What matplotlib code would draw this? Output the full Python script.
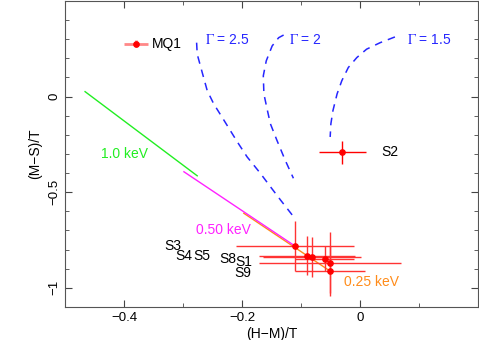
import matplotlib
matplotlib.use("Agg")
import matplotlib.pyplot as plt
from matplotlib.ticker import MultipleLocator, FuncFormatter

plt.rcParams["font.family"] = ["Liberation Sans", "DejaVu Sans"]
plt.rcParams["mathtext.fontset"] = "stix"

# sources: hardness ratios with errors
src_names = ["S1", "S8", "S3", "S4", "S5", "S9"]
hm = [-0.110, -0.090, -0.081, -0.060, -0.051, -0.051]
ms = [-0.782, -0.831, -0.839, -0.848, -0.869, -0.912]
hm_err = [0.100, 0.081, 0.083, 0.050, 0.120, 0.060]
ms_err = [0.130, 0.104, 0.104, 0.065, 0.160, 0.130]

s2_hm, s2_ms, s2_hm_err, s2_ms_err = -0.030, -0.292, 0.040, 0.060
mq1_hm, mq1_ms, mq1_hm_err, mq1_ms_err = -0.380, 0.277, 0.020, 0.020

# power-law tracks
g25_x = [-0.277, -0.276, -0.2675, -0.259, -0.248, -0.234, -0.208, -0.1915,
         -0.169, -0.152, -0.135, -0.113]
g25_y = [0.282, 0.222, 0.126, 0.031, -0.038, -0.107, -0.237, -0.315,
         -0.401, -0.471, -0.540, -0.627]
g20_x = [-0.1296, -0.138, -0.149, -0.159, -0.164, -0.163, -0.157, -0.152,
         -0.141, -0.127, -0.113]
g20_y = [0.322, 0.308, 0.265, 0.187, 0.109, 0.014, -0.073, -0.142,
         -0.228, -0.332, -0.427]
g15_x = [0.059, 0.034, 0.011, -0.0056, -0.020, -0.031, -0.039, -0.046,
         -0.0495, -0.0507]
g15_y = [0.312, 0.282, 0.248, 0.204, 0.152, 0.083, 0.014, -0.073,
         -0.142, -0.211]

# thermal tracks
kt10_x, kt10_y = [-0.466, -0.276], [0.026, -0.414]
kt05_x, kt05_y = [-0.2985, -0.110], [-0.393, -0.782]
kt025_x, kt025_y = [-0.197, -0.051], [-0.610, -0.912]

x_ticks = [-0.4, -0.2, 0.0]
y_ticks = [-1.0, -0.5, 0.0]

fig = plt.figure(figsize=(4.79, 3.40), dpi=100)
ax = fig.add_axes([0.1357, 0.0971, 0.8625, 0.9])

blue = "#2626ff"
dash = (5, 4)
for gx, gy in [(g25_x, g25_y), (g20_x, g20_y), (g15_x, g15_y)]:
    ax.plot(gx, gy, color=blue, lw=1.1, dashes=dash)

ax.plot(kt10_x, kt10_y, color="#22ee22", lw=1.0)
ax.plot(kt025_x, kt025_y, color="#ff8c1a", lw=1.0)
ax.plot(kt05_x, kt05_y, color="#ff22ff", lw=1.0)

ax.errorbar(hm, ms, xerr=hm_err, yerr=ms_err, fmt="o", color="red",
            ecolor="#ff3333", elinewidth=1.0, ms=3.8, capsize=0, zorder=4)
ax.errorbar([s2_hm], [s2_ms], xerr=[s2_hm_err], yerr=[s2_ms_err], fmt="o",
            color="red", ecolor="red", elinewidth=1.0, ms=3.8, capsize=0)
ax.errorbar([mq1_hm], [mq1_ms], xerr=[mq1_hm_err], yerr=[mq1_ms_err], fmt="o",
            color="red", ecolor="#ff8888", elinewidth=2.0, ms=3.8, capsize=0)

fs = 10
ax.text(-0.352, 0.277, "MQ1", fontsize=fs, va="center")
ax.text(0.0367, -0.292, "S2", fontsize=fs, va="center")
ax.text(-0.332, -0.779, "S3", fontsize=fs, va="center")
ax.text(-0.313, -0.831, "S4", fontsize=fs, va="center")
ax.text(-0.283, -0.834, "S5", fontsize=fs, va="center")
ax.text(-0.238, -0.848, "S8", fontsize=fs, va="center")
ax.text(-0.211, -0.866, "S1", fontsize=fs, va="center")
ax.text(-0.2124, -0.921, "S9", fontsize=fs, va="center")

ax.text(-0.439, -0.301, "1.0 keV", fontsize=fs, color="#22ee22", va="center")
ax.text(-0.278, -0.699, "0.50 keV", fontsize=fs, color="#ff22ff", va="center")
ax.text(-0.027, -0.967, "0.25 keV", fontsize=fs, color="#ff8c1a", va="center")

ax.text(-0.262, 0.296, r"$\Gamma$ = 2.5", fontsize=fs, color=blue, va="center")
ax.text(-0.121, 0.296, r"$\Gamma$ = 2", fontsize=fs, color=blue, va="center")
ax.text(0.079, 0.296, r"$\Gamma$ = 1.5", fontsize=fs, color=blue, va="center")

ax.set_xlim(-0.5, 0.2)
ax.set_ylim(-1.1, 0.5)
ax.set_xticks(x_ticks)
ax.set_yticks(y_ticks)
ax.xaxis.set_minor_locator(MultipleLocator(0.1))
ax.yaxis.set_minor_locator(MultipleLocator(0.1))
fmt = FuncFormatter(lambda v, p: f"{v:g}".replace("-", "\u2212"))
ax.xaxis.set_major_formatter(fmt)
ax.yaxis.set_major_formatter(fmt)
ax.tick_params(which="both", direction="in", top=True, right=True,
               labelsize=9.5, color="#444444")
ax.tick_params(which="major", length=5)
ax.tick_params(which="minor", length=3)
for lab in ax.get_yticklabels():
    lab.set_rotation(90)
    lab.set_va("center")
for sp in ax.spines.values():
    sp.set_color("#555555")

ax.set_xlabel("(H\u2212M)/T", fontsize=fs, labelpad=2)
ax.set_ylabel("(M\u2212S)/T", fontsize=fs, labelpad=4)

fig.savefig("out.png", dpi=100)
